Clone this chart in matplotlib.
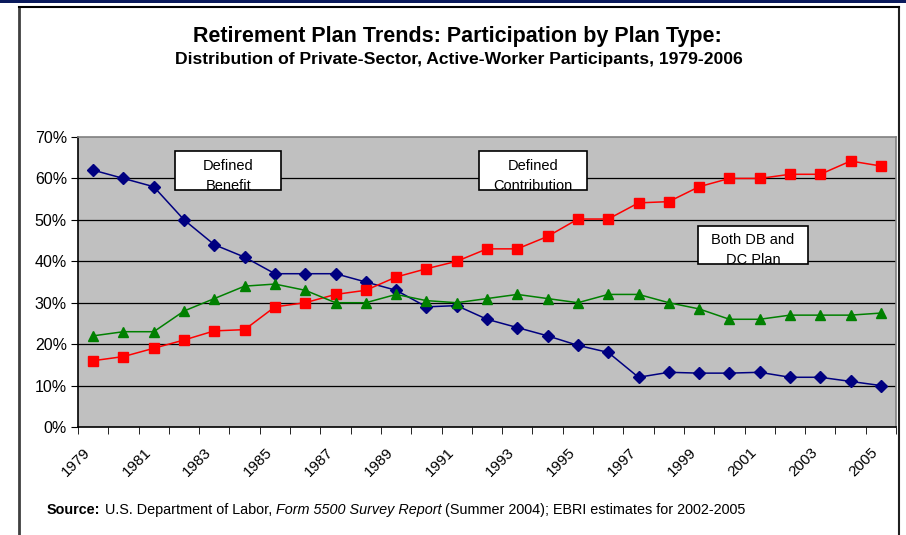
import numpy as np
import matplotlib
matplotlib.use("Agg")
import matplotlib.pyplot as plt
from matplotlib.patches import Rectangle

plt.rcParams["font.family"] = ["Liberation Sans", "DejaVu Sans"]

# Data (percent of participants)
years = list(range(1979, 2006))
defined_benefit = [62, 60, 58, 50, 44, 41, 37, 37, 37, 35, 33, 29, 29.3, 26, 24, 22,
                   19.7, 18, 12, 13.2, 13, 13, 13.2, 12, 12, 11, 10]
defined_contribution = [16, 17, 19, 21, 23.2, 23.5, 29, 30, 32, 33, 36.2, 38.2, 40, 43,
                        43, 46, 50.2, 50.2, 54.1, 54.4, 58, 60, 60, 61, 61, 64.2, 63]
both_db_dc = [22, 23, 23, 28, 31, 34, 34.5, 33, 30, 30, 32, 30.5, 30, 31, 32, 31, 30,
              32, 32, 30, 28.5, 26, 26, 27, 27, 27, 27.5]
y_ticks = [0, 10, 20, 30, 40, 50, 60, 70]

fig = plt.figure(figsize=(9.06, 5.35), dpi=100)
ax = fig.add_axes([0.0861, 0.2019, 0.9029, 0.5420])

x = np.arange(len(years))
ax.set_facecolor("#C0C0C0")
ax.plot(x, defined_benefit, color="#000080", marker="D", markersize=6, linewidth=1.1, zorder=3)
ax.plot(x, defined_contribution, color="#FF0000", marker="s", markersize=6.5, linewidth=1.1, zorder=3)
ax.plot(x, both_db_dc, color="#008000", marker="^", markersize=7.5, linewidth=1.1, zorder=3)

ax.set_xlim(-0.5, len(years) - 0.5)
ax.set_ylim(0, 70)
ax.set_yticks(y_ticks)
ax.set_yticklabels([f"{v}%" for v in y_ticks], fontsize=11.5)
for v in y_ticks[1:-1]:
    ax.axhline(v, color="black", linewidth=0.9, zorder=1)

# category boundaries as tick marks, labels on every other year
ax.set_xticks(np.arange(-0.5, len(years)), minor=True)
ax.set_xticks(x[::2])
ax.set_xticklabels([str(y) for y in years[::2]], rotation=45, ha="right", fontsize=11)
ax.tick_params(axis="x", which="major", length=0, pad=13)
ax.tick_params(axis="x", which="minor", length=5, direction="out", color="black")
ax.tick_params(axis="y", length=5, direction="out", pad=3)

ax.spines["left"].set_color("black")
ax.spines["bottom"].set_color("black")
ax.spines["top"].set_color("#808080")
ax.spines["right"].set_color("#808080")
for s in ax.spines.values():
    s.set_linewidth(1.2)

# labelled boxes
boxes = [
    ((0.1186, 0.817), 0.130, 0.135, ["Defined", "Benefit"]),
    ((0.490, 0.817), 0.132, 0.135, ["Defined", "Contribution"]),
    ((0.758, 0.562), 0.134, 0.131, ["Both DB and", "DC Plan"]),
]
for (bx, by), bw, bh, lines in boxes:
    ax.add_patch(Rectangle((bx, by), bw, bh, transform=ax.transAxes, facecolor="white",
                           edgecolor="black", linewidth=1.2, zorder=4))
    cx = bx + bw / 2
    ax.text(cx, by + bh * 0.62, lines[0], transform=ax.transAxes, ha="center", va="center",
            fontsize=10.5, zorder=5)
    ax.text(cx, by + bh * 0.11, lines[1], transform=ax.transAxes, ha="center", va="center",
            fontsize=10.5, zorder=5)

# titles
fig.text(0.505, 0.932, "Retirement Plan Trends: Participation by Plan Type:", ha="center",
         va="center", fontsize=15.5, fontweight="bold")
fig.text(0.507, 0.889, "Distribution of Private-Sector, Active-Worker Participants, 1979-2006",
         ha="center", va="center", fontsize=12.6, fontweight="bold")

# frame around the chart and top band
fig.add_artist(Rectangle((0, 1 - 3 / 535), 1, 3 / 535, transform=fig.transFigure,
                         facecolor="#0A1A5C", edgecolor="none"))
fig.add_artist(plt.Line2D([19 / 906, 19 / 906], [0, 1 - 7 / 535], transform=fig.transFigure,
                          color="#404040", linewidth=2))
fig.add_artist(plt.Line2D([899 / 906, 899 / 906], [0, 1 - 7 / 535], transform=fig.transFigure,
                          color="#202020", linewidth=1.5))
fig.add_artist(plt.Line2D([19 / 906, 899 / 906], [1 - 7 / 535, 1 - 7 / 535],
                          transform=fig.transFigure, color="black", linewidth=1.5))

# source line with mixed styles
pieces = [
    ("Source:", {"fontweight": "bold"}),
    (" U.S. Department of Labor, ", {}),
    ("Form 5500 Survey Report", {"fontstyle": "italic"}),
    (" (Summer 2004); EBRI estimates for 2002-2005", {}),
]
fig.canvas.draw()
renderer = fig.canvas.get_renderer()
xpos = 47 / 906
for txt, style in pieces:
    t = fig.text(xpos, 1 - 510 / 535, txt, ha="left", va="center", fontsize=10.4, **style)
    w = t.get_window_extent(renderer=renderer).width
    xpos += w / 906

fig.savefig("out.png", dpi=100)
